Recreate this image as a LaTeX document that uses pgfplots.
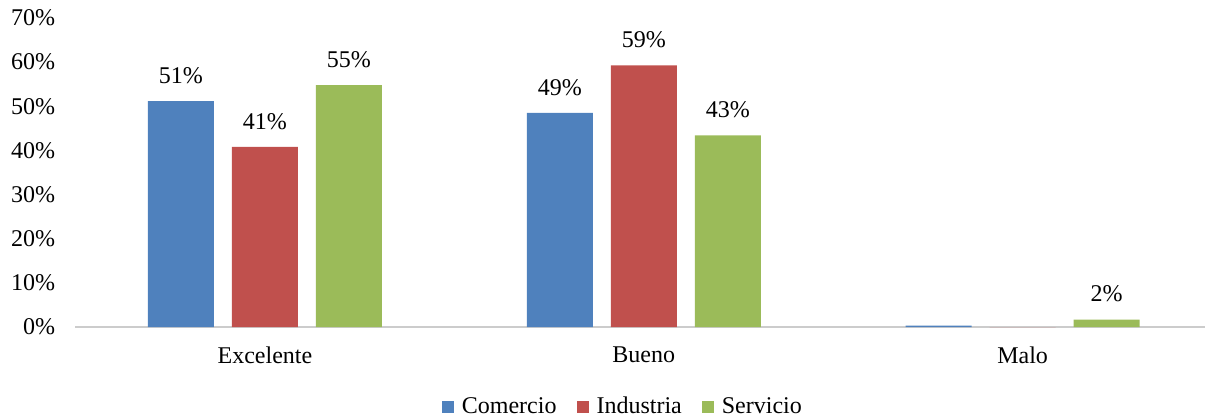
\documentclass[border=0pt]{standalone}
\usepackage{pgfplots}
\pgfplotsset{compat=1.18}
\usepackage{pgfplotstable}
\usepackage{fontspec}
\setmainfont{Liberation Serif}
\definecolor{cCom}{HTML}{4F81BD}
\definecolor{cInd}{HTML}{C0504D}
\definecolor{cSer}{HTML}{9BBB59}
\pgfplotstableread{
x y lab
0 51.2 51\%
1 48.5 49\%
2 0.3 {}
}\tcom
\pgfplotstableread{
x y lab
0 40.8 41\%
1 59.3 59\%
2 0.0 {}
}\tind
\pgfplotstableread{
x y lab
0 54.8 55\%
1 43.4 43\%
2 1.7 2\%
}\tser
\begin{document}
\fontsize{12}{14}\selectfont
\begin{tikzpicture}
\path[use as bounding box] (-37.75pt,-46pt) rectangle (564.75pt,163.5pt);
\begin{axis}[
  scale only axis, width=568.25pt, height=154.5pt,
  ybar=9pt, bar width=33pt,
  xmin=-0.5, xmax=2.5, ymin=0, ymax=70,
  xtick={0,1,2}, xticklabels={Excelente,Bueno,Malo},
  ytick={0,10,...,70},
  yticklabel={\pgfmathprintnumber{\tick}\%},
  axis x line=bottom, axis y line=left,
  x axis line style={draw=black!20, line width=0.8pt, -},
  y axis line style={draw=none},
  major tick length=0pt,
  tick style={draw=none},
  ticklabel style={font=\fontsize{12}{14}\selectfont},
  yticklabel style={xshift=-6pt},
  xticklabel style={yshift=-5.5pt},
  /pgf/number format/assume math mode=true,
  point meta=explicit symbolic,
  nodes near coords,
  nodes near coords style={font=\fontsize{12}{14}\selectfont, anchor=south, yshift=4.5pt, text=black},
  legend columns=3,
  legend style={draw=none, at={(0.4825,-0.259)}, anchor=center, font=\fontsize{12}{14}\selectfont,
    /tikz/every odd column/.append style={column sep=2pt},
    /tikz/every even column/.append style={column sep=8pt}},
  legend image code/.code={\fill[#1] (0pt,-3pt) rectangle (6pt,3pt);},
]
\addplot[fill=cCom, draw=none] table[x=x, y=y, meta=lab] {\tcom};
\addplot[fill=cInd, draw=none] table[x=x, y=y, meta=lab] {\tind};
\addplot[fill=cSer, draw=none] table[x=x, y=y, meta=lab] {\tser};
\legend{Comercio, Industria, Servicio}
\end{axis}
\end{tikzpicture}
\end{document}
